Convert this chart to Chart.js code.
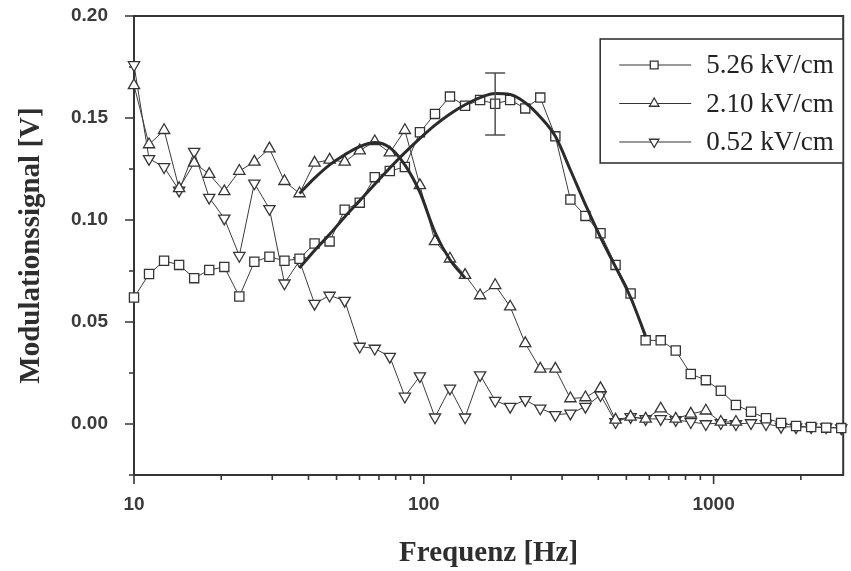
<!DOCTYPE html>
<html>
<head>
<meta charset="utf-8">
<title>Modulationssignal vs. Frequenz</title>
<script src="https://cdn.jsdelivr.net/npm/chart.js@4.4.0/dist/chart.umd.min.js"></script>
<style>
  html, body { margin: 0; padding: 0; background: #ffffff; }
  #wrap { width: 851px; height: 571px; position: relative; }
</style>
</head>
<body>
<div id="wrap"><canvas id="chart" width="851" height="571"></canvas></div>
<script>
// Measurement frequencies (Hz), shared by all three field strengths
const frequencies = [10, 11.27, 12.70, 14.31, 16.13, 18.18, 20.49, 23.09, 26.02, 29.33,
  33.05, 37.25, 41.98, 47.31, 53.33, 60.10, 67.73, 76.33, 86.03, 96.96,
  109.3, 123.1, 138.8, 156.4, 176.3, 198.6, 223.9, 252.3, 284.4, 320.5,
  361.2, 407.1, 458.8, 517.1, 582.8, 656.8, 740.2, 834.2, 940.2, 1059,
  1194, 1346, 1516, 1709, 1926, 2171, 2446, 2757];

// Modulation signal (V) per field strength
const signal526 = [0.062, 0.0735, 0.080, 0.078, 0.0715, 0.0755, 0.077, 0.0625, 0.0795, 0.082,
  0.080, 0.081, 0.0885, 0.0895, 0.105, 0.1085, 0.121, 0.124, 0.126, 0.143,
  0.152, 0.1605, 0.156, 0.1588, 0.157, 0.1588, 0.1547, 0.160, 0.141, 0.110,
  0.102, 0.0935, 0.078, 0.064, 0.041, 0.041, 0.036, 0.0245, 0.0215, 0.0163,
  0.0093, 0.006, 0.0028, 0.0005, -0.001, -0.0015, -0.0018, -0.002];

const signal210 = [0.166, 0.137, 0.144, 0.1155, 0.128, 0.1225, 0.114, 0.124, 0.1285, 0.135,
  0.119, 0.113, 0.128, 0.1295, 0.1285, 0.134, 0.1385, 0.133, 0.144, 0.117,
  0.0895, 0.081, 0.073, 0.063, 0.068, 0.0575, 0.0395, 0.027, 0.027, 0.0125,
  0.013, 0.0175, 0.002, 0.0035, 0.0025, 0.0075, 0.0025, 0.005, 0.0065, 0.001,
  0.001];

const signal052 = [0.176, 0.130, 0.126, 0.1145, 0.1335, 0.111, 0.1008, 0.0825, 0.118, 0.1055,
  0.069, 0.080, 0.059, 0.063, 0.0605, 0.038, 0.037, 0.033, 0.0135, 0.0235,
  0.0033, 0.0175, 0.0033, 0.024, 0.0115, 0.0085, 0.0118, 0.0077, 0.0045, 0.0052,
  0.0085, 0.0142, 0.001, 0.0035, 0.0025, 0.0025, 0.002, 0.001, 0.000, 0.0005,
  0.000, 0.0005, 0.000, -0.0013, -0.0015, -0.0015, -0.0015, -0.002];

// Fitted curves: first frequency index and values along the fit
const fit526Start = 11;
const fit526 = [0.0765, 0.085, 0.093, 0.1015, 0.1095, 0.1175, 0.1255, 0.133, 0.140, 0.1465,
  0.152, 0.1565, 0.160, 0.162, 0.1615, 0.1575, 0.1505, 0.141, 0.1245, 0.1075,
  0.0915, 0.077, 0.062, 0.043];
const fit210Start = 11;
const fit210 = [0.113, 0.1205, 0.127, 0.132, 0.136, 0.138, 0.1355, 0.127, 0.1135, 0.094,
  0.0805, 0.0715];

// Error bar on the 5.26 kV/cm series
const errorBarIndex = [24];
const errorBarLow = [0.1417];
const errorBarHigh = [0.172];

// Axis ticks
const xTickValues = [10, 20, 30, 40, 50, 60, 70, 80, 90, 100, 200, 300, 400, 500, 600, 700, 800, 900, 1000, 2000];
const xLabelValues = [10, 100, 1000];
const yTickValues = [-0.025, 0, 0.025, 0.05, 0.075, 0.10, 0.125, 0.15, 0.175, 0.20];
const yLabelValues = [0, 0.05, 0.10, 0.15, 0.20];

const seriesLabels = ['5.26 kV/cm', '2.10 kV/cm', '0.52 kV/cm'];

const ink = '#353535';
const toPoints = (values, start = 0) => values.map((v, i) => ({ x: frequencies[i + start], y: v }));

const markerBase = {
  borderColor: '#3c3c3c',
  borderWidth: 1,
  pointBorderColor: ink,
  pointBackgroundColor: '#ffffff',
  pointBorderWidth: 1.3,
  pointRadius: 6.5,
  pointHoverRadius: 6.5,
  tension: 0,
  fill: false,
  clip: false,
  order: 2
};
const fitBase = {
  borderColor: '#2b2b2b',
  borderWidth: 3,
  pointRadius: 0,
  pointHoverRadius: 0,
  cubicInterpolationMode: 'monotone',
  fill: false,
  order: 0,
  isFit: true
};

// Frame around the plot plus outward tick marks
const axisFrame = {
  id: 'axisFrame',
  beforeDatasetsDraw(chart) {
    const { ctx, chartArea: a, scales: { x, y } } = chart;
    ctx.save();
    ctx.strokeStyle = ink;
    ctx.lineWidth = 2;
    ctx.strokeRect(a.left, a.top, a.right - a.left, a.bottom - a.top);
    ctx.lineWidth = 1.6;
    ctx.beginPath();
    x.ticks.forEach(t => {
      const px = x.getPixelForValue(t.value);
      const major = xLabelValues.includes(t.value);
      ctx.moveTo(px, a.bottom);
      ctx.lineTo(px, a.bottom + (major ? 9 : 5));
    });
    y.ticks.forEach(t => {
      const py = y.getPixelForValue(t.value);
      const major = yLabelValues.some(v => Math.abs(v - t.value) < 1e-9);
      ctx.moveTo(a.left, py);
      ctx.lineTo(a.left - (major ? 9 : 5), py);
    });
    ctx.stroke();
    ctx.restore();
  }
};

// Vertical error bars with caps
const errorBars = {
  id: 'errorBars',
  afterDatasetsDraw(chart) {
    const { ctx, scales: { x, y } } = chart;
    ctx.save();
    ctx.strokeStyle = '#505050';
    ctx.lineWidth = 1.5;
    errorBarIndex.forEach((idx, i) => {
      const px = x.getPixelForValue(frequencies[idx]);
      const y1 = y.getPixelForValue(errorBarLow[i]);
      const y2 = y.getPixelForValue(errorBarHigh[i]);
      ctx.beginPath();
      ctx.moveTo(px, y1); ctx.lineTo(px, y2);
      ctx.moveTo(px - 10, y1); ctx.lineTo(px + 10, y1);
      ctx.moveTo(px - 10, y2); ctx.lineTo(px + 10, y2);
      ctx.stroke();
    });
    ctx.restore();
  }
};

// Boxed legend in the upper right: line - marker - line, then label
const legendBox = {
  id: 'legendBox',
  afterDatasetsDraw(chart) {
    const { ctx, chartArea: a } = chart;
    const left = a.right - 243, top = a.top + 23, right = a.right, bottom = a.top + 147;
    ctx.save();
    ctx.fillStyle = '#ffffff';
    ctx.fillRect(left, top, right - left, bottom - top);
    ctx.strokeStyle = ink;
    ctx.lineWidth = 1.6;
    ctx.strokeRect(left, top, right - left, bottom - top);
    const items = chart.data.datasets.filter(d => !d.isFit);
    items.forEach((d, i) => {
      const rowY = top + 26 + i * 38.5;
      ctx.strokeStyle = ink;
      ctx.lineWidth = 1.2;
      ctx.beginPath();
      ctx.moveTo(left + 19, rowY);
      ctx.lineTo(left + 91, rowY);
      ctx.stroke();
      ctx.fillStyle = '#ffffff';
      ctx.strokeStyle = ink;
      ctx.lineWidth = 1.3;
      Chart.helpers.drawPoint(ctx, {
        pointStyle: d.pointStyle,
        rotation: d.pointRotation || 0,
        radius: 5.5,
        borderWidth: 1.3
      }, left + 54, rowY);
      ctx.fillStyle = '#222222';
      ctx.font = '27px "Liberation Serif", "Times New Roman", serif';
      ctx.textAlign = 'left';
      ctx.textBaseline = 'middle';
      ctx.fillText(d.label, left + 106, rowY + 1);
    });
    ctx.restore();
  }
};

new Chart(document.getElementById('chart'), {
  type: 'line',
  data: {
    datasets: [
      Object.assign({}, markerBase, { label: seriesLabels[0], data: toPoints(signal526), pointStyle: 'rect' }),
      Object.assign({}, markerBase, { label: seriesLabels[1], data: toPoints(signal210), pointStyle: 'triangle' }),
      Object.assign({}, markerBase, { label: seriesLabels[2], data: toPoints(signal052), pointStyle: 'triangle', pointRotation: 180 }),
      Object.assign({}, fitBase, { label: 'fit 5.26', data: toPoints(fit526, fit526Start) }),
      Object.assign({}, fitBase, { label: 'fit 2.10', data: toPoints(fit210, fit210Start) })
    ]
  },
  options: {
    responsive: false,
    animation: false,
    devicePixelRatio: 1,
    layout: { padding: { top: 16, right: 2, left: 0, bottom: 0 } },
    plugins: { legend: { display: false }, tooltip: { enabled: false } },
    events: [],
    scales: {
      x: {
        type: 'logarithmic',
        min: 10,
        max: 2800,
        grid: { display: false },
        border: { display: false },
        afterBuildTicks: s => { s.ticks = xTickValues.map(v => ({ value: v })); },
        afterFit: s => { s.height = 96; s.paddingLeft = 0; s.paddingRight = 0; },
        ticks: {
          autoSkip: false,
          maxRotation: 0,
          padding: 10,
          color: '#3a3a3a',
          font: { family: '"Liberation Sans", Arial, sans-serif', size: 19, weight: 'bold' },
          callback: v => xLabelValues.includes(v) ? String(v) : ''
        },
        title: {
          display: true,
          text: 'Frequenz [Hz]',
          color: '#2e2e2e',
          font: { family: '"Liberation Serif", "Times New Roman", serif', size: 29, weight: 'bold' },
          padding: { top: 0, bottom: 0 }
        }
      },
      y: {
        type: 'linear',
        min: -0.025,
        max: 0.20,
        grid: { display: false },
        border: { display: false },
        afterBuildTicks: s => { s.ticks = yTickValues.map(v => ({ value: v })); },
        afterFit: s => { s.width = 134; s.paddingTop = 0; s.paddingBottom = 0; },
        ticks: {
          autoSkip: false,
          padding: 18,
          color: '#3a3a3a',
          font: { family: '"Liberation Sans", Arial, sans-serif', size: 19, weight: 'bold' },
          callback: v => yLabelValues.some(l => Math.abs(l - v) < 1e-9) ? v.toFixed(2) : ''
        },
        title: {
          display: true,
          text: 'Modulationssignal [V]',
          color: '#2e2e2e',
          font: { family: '"Liberation Serif", "Times New Roman", serif', size: 29, weight: 'bold' },
          padding: { top: 14, bottom: 0 }
        }
      }
    }
  },
  plugins: [axisFrame, errorBars, legendBox]
});
</script>
</body>
</html>
